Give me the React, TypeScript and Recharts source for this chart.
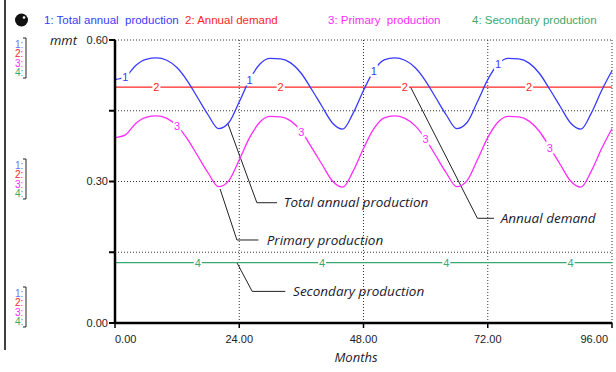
import { LineChart, Line, XAxis, YAxis, CartesianGrid, ReferenceLine, ReferenceDot } from 'recharts';

// Months sampled every 2 months (0..96)
const months = [
  0, 2, 4, 6, 8, 10, 12, 14, 16, 18, 20, 22, 24, 26, 28, 30, 32, 34, 36, 38, 40, 42, 44, 46, 48,
  50, 52, 54, 56, 58, 60, 62, 64, 66, 68, 70, 72, 74, 76, 78, 80, 82, 84, 86, 88, 90, 92, 94, 96,
];

const totalProduction = [
  0.516, 0.522, 0.546, 0.559, 0.562, 0.557, 0.541, 0.513, 0.477, 0.441, 0.412, 0.425, 0.469,
  0.516, 0.549, 0.561, 0.560, 0.551, 0.529, 0.495, 0.459, 0.424, 0.411, 0.445, 0.493,
  0.535, 0.558, 0.562, 0.557, 0.541, 0.513, 0.477, 0.441, 0.412, 0.425, 0.469,
  0.516, 0.549, 0.561, 0.560, 0.551, 0.529, 0.495, 0.459, 0.424, 0.411, 0.445, 0.493, 0.535,
];

const annualDemand = [
  0.5, 0.5, 0.5, 0.5, 0.5, 0.5, 0.5, 0.5, 0.5, 0.5, 0.5, 0.5, 0.5, 0.5, 0.5, 0.5, 0.5,
  0.5, 0.5, 0.5, 0.5, 0.5, 0.5, 0.5, 0.5, 0.5, 0.5, 0.5, 0.5, 0.5, 0.5, 0.5, 0.5,
  0.5, 0.5, 0.5, 0.5, 0.5, 0.5, 0.5, 0.5, 0.5, 0.5, 0.5, 0.5, 0.5, 0.5, 0.5, 0.5,
];

const primaryProduction = [
  0.393, 0.399, 0.423, 0.436, 0.439, 0.434, 0.418, 0.390, 0.354, 0.318, 0.289, 0.302, 0.346,
  0.393, 0.426, 0.438, 0.437, 0.428, 0.406, 0.372, 0.336, 0.301, 0.288, 0.322, 0.370,
  0.412, 0.435, 0.439, 0.434, 0.418, 0.390, 0.354, 0.318, 0.289, 0.302, 0.346,
  0.393, 0.426, 0.438, 0.437, 0.428, 0.406, 0.372, 0.336, 0.301, 0.288, 0.322, 0.370, 0.412,
];

const secondaryProduction = [
  0.128, 0.128, 0.128, 0.128, 0.128, 0.128, 0.128, 0.128, 0.128, 0.128, 0.128, 0.128, 0.128,
  0.128, 0.128, 0.128, 0.128, 0.128, 0.128, 0.128, 0.128, 0.128, 0.128, 0.128, 0.128,
  0.128, 0.128, 0.128, 0.128, 0.128, 0.128, 0.128, 0.128, 0.128, 0.128, 0.128,
  0.128, 0.128, 0.128, 0.128, 0.128, 0.128, 0.128, 0.128, 0.128, 0.128, 0.128, 0.128, 0.128,
];

const xTicks = [0, 24, 48, 72, 96];
const yTicks = [0, 0.15, 0.3, 0.45, 0.6];
const yLabelled = [0, 0.3, 0.6];

// months where the series number is stamped on the line
const totalMarks = [2, 26, 50, 74];
const demandMarks = [8, 32, 56, 80];
const primaryMarks = [12, 36, 60, 84];
const secondaryMarks = [16, 40, 64, 88];

const BLUE = '#3a3aff';
const RED = '#ff2626';
const MAGENTA = '#ff2cff';
const GREEN = '#3aa870';

const data = months.map((m, i) => ({
  month: m,
  total: totalProduction[i],
  demand: annualDemand[i],
  primary: primaryProduction[i],
  secondary: secondaryProduction[i],
}));

// leader lines for the callouts, in chart units (month, mmt)
const callouts = [
  { text: 'Total annual production', pts: [[21.8, 0.423], [27.4, 0.255], [31.3, 0.255]], tx: 32.6 },
  { text: 'Primary production', pts: [[20.3, 0.284], [23.55, 0.176], [27.7, 0.176]], tx: 29.3 },
  { text: 'Secondary production', pts: [[23.55, 0.128], [26.5, 0.067], [32.9, 0.067]], tx: 34.4 },
  { text: 'Annual demand', pts: [[57.1, 0.5], [70.0, 0.222], [73.2, 0.222]], tx: 74.5 },
];

const FONT = '"Liberation Sans", Arial, sans-serif';
const ITALIC_FONT = '"Open Sans", "Liberation Sans", sans-serif';

const numberDot = (num: string, color: string, at: number[]) => (props: any) => {
  const { cx, cy, payload, index } = props;
  if (!at.includes(payload.month)) return <g key={`n${num}-${index}`} />;
  return (
    <g key={`n${num}-${index}`}>
      <rect x={cx - 4} y={cy - 6} width={8} height={12} fill="#fff" />
      <text x={cx} y={cy + 4} textAnchor="middle" fontSize={11} fontFamily={FONT} fill={color}>
        {num}
      </text>
    </g>
  );
};

const XTick = ({ x, y, payload }: any) => {
  const v = payload.value;
  const anchor = v === 0 ? 'start' : v === 96 ? 'end' : 'middle';
  return (
    <text x={x} y={y + 5} dy="0.71em" textAnchor={anchor} fontSize={11} fontFamily={FONT} fill="#222">
      {v.toFixed(2)}
    </text>
  );
};

const YTick = ({ x, y, payload }: any) => {
  const v = payload.value;
  if (!yLabelled.some((t) => Math.abs(t - v) < 1e-6)) return <g />;
  return (
    <text x={x} y={y} dy="0.355em" textAnchor="end" fontSize={11} fontFamily={FONT} fill="#222">
      {v.toFixed(2)}
    </text>
  );
};

const stripGroups = [44, 165, 293];
const stripItems = [
  { t: '1:', c: '#7070ff' },
  { t: '2:', c: RED },
  { t: '3:', c: MAGENTA },
  { t: '4:', c: GREEN },
];

export default function App() {
  return (
    <div style={{ position: 'absolute', left: 0, top: 0, width: 616, height: 372, background: '#fff' }}>
      <LineChart width={616} height={372} data={data} margin={{ top: 40, right: 4, bottom: 0, left: 0 }}>
        <CartesianGrid stroke="#333" strokeDasharray="1 2" />
        <XAxis
          dataKey="month"
          type="number"
          domain={[0, 96]}
          ticks={xTicks}
          height={49}
          tick={<XTick />}
          tickSize={5}
          axisLine={{ stroke: '#000', strokeWidth: 2.5 }}
          tickLine={{ stroke: '#000', strokeWidth: 1.5 }}
        />
        <YAxis
          type="number"
          domain={[0, 0.6]}
          ticks={yTicks}
          width={115}
          tick={<YTick />}
          tickSize={6}
          tickMargin={1}
          axisLine={{ stroke: '#000', strokeWidth: 2.5 }}
          tickLine={{ stroke: '#000', strokeWidth: 2 }}
        />
        {callouts.map((c, i) =>
          c.pts.slice(1).map((p, j) => (
            <ReferenceLine
              key={`cl${i}-${j}`}
              segment={[
                { x: c.pts[j][0], y: c.pts[j][1] },
                { x: p[0], y: p[1] },
              ]}
              stroke="#222"
              strokeWidth={1}
              ifOverflow="visible"
            />
          ))
        )}
        <Line type="monotone" dataKey="secondary" stroke={GREEN} strokeWidth={1.3} isAnimationActive={false}
          dot={numberDot('4', GREEN, secondaryMarks)} activeDot={false} />
        <Line type="monotone" dataKey="primary" stroke={MAGENTA} strokeWidth={1.3} isAnimationActive={false}
          dot={numberDot('3', MAGENTA, primaryMarks)} activeDot={false} />
        <Line type="monotone" dataKey="demand" stroke={RED} strokeWidth={1.3} isAnimationActive={false}
          dot={numberDot('2', RED, demandMarks)} activeDot={false} />
        <Line type="monotone" dataKey="total" stroke={BLUE} strokeWidth={1.3} isAnimationActive={false}
          dot={numberDot('1', BLUE, totalMarks)} activeDot={false} />
        {callouts.map((c, i) => (
          <ReferenceDot
            key={`ct${i}`}
            x={c.tx}
            y={c.pts[2][1]}
            r={0}
            ifOverflow="visible"
            shape={(p: any) => (
              <text x={p.cx} y={p.cy} dy="0.35em" fontSize={13.5} fontStyle="italic" fontFamily={ITALIC_FONT} fill="#1a1a2e">
                {c.text}
              </text>
            )}
          />
        ))}
      </LineChart>
      <svg width={616} height={372} style={{ position: 'absolute', left: 0, top: 0, pointerEvents: 'none' }}>
        <line x1={5} y1={0} x2={5} y2={350} stroke="#000" strokeWidth={1.5} />
        <circle cx={21.5} cy={20} r={6.5} fill="#111" />
        <circle cx={24} cy={17.5} r={1.3} fill="#fff" />
        <g fontFamily={FONT} fontSize={11.5}>
          <text x={44} y={24} fill={BLUE} xmlSpace="preserve">1: Total annual  production</text>
          <text x={185} y={24} fill={RED} xmlSpace="preserve">2: Annual demand</text>
          <text x={328} y={24} fill={MAGENTA} xmlSpace="preserve">3: Primary  production</text>
          <text x={472} y={24} fill={GREEN} xmlSpace="preserve">4: Secondary production</text>
        </g>
        {stripGroups.map((gy, gi) => (
          <g key={gi} fontFamily={FONT} fontSize={10}>
            {stripItems.map((s, si) => (
              <text key={si} x={15} y={gy + si * 9.5 + 3.5} fill={s.c}>{s.t}</text>
            ))}
            <path d={`M23,${gy - 6} H26 V${gy + 34} H23`} fill="none" stroke="#222" strokeWidth={1} />
          </g>
        ))}
        <text x={50} y={45} fontFamily={ITALIC_FONT} fontSize={13} fontStyle="italic" fill="#1a1a2e">mmt</text>
        <text x={356} y={362} textAnchor="middle" fontFamily={ITALIC_FONT} fontSize={13} fontStyle="italic" fill="#1a1a2e">Months</text>
      </svg>
    </div>
  );
}
